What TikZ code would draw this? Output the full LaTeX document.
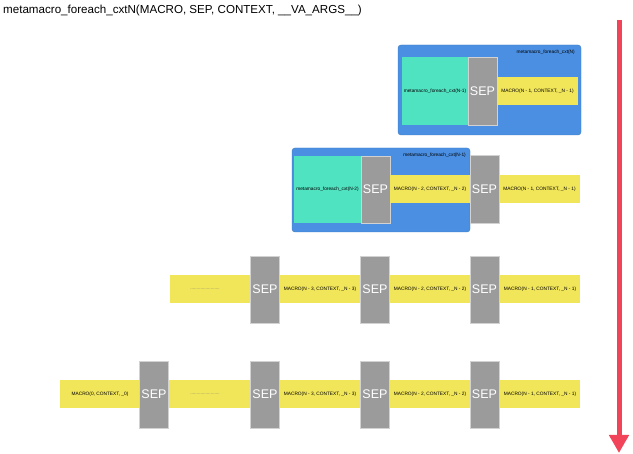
\documentclass[tikz,border=0pt]{standalone}
\usepackage{fontspec}
\setmainfont{Liberation Sans}
\usetikzlibrary{arrows.meta}
\definecolor{cblue}{HTML}{4A8FE2}
\definecolor{cteal}{HTML}{50E3C2}
\definecolor{cgray}{HTML}{9B9B9B}
\definecolor{cyel}{HTML}{F1E55A}
\definecolor{cred}{HTML}{F1435A}
\tikzset{
  box/.style={inner sep=0pt, outer sep=0pt, anchor=center},
  bluebox/.style={box, fill=cblue, draw=cblue!85!black, line width=0.4pt, rounded corners=3pt},
  tealbox/.style={box, fill=cteal},
  sepbox/.style={box, fill=cgray, draw=white!55!cgray, line width=0.4pt, minimum width=29pt, minimum height=67pt,
     text=white, font=\fontsize{12.5}{14}\selectfont},
  yelbar/.style={box, fill=cyel, minimum height=28pt},
  small/.style={inner sep=0pt, font=\fontsize{4.8}{5.5}\selectfont},
  dotsl/.style={inner sep=0pt, font=\fontsize{4.6}{5.5}\selectfont, text=black!55},
}
\begin{document}
\begin{tikzpicture}[x=1pt,y=-1pt]
\useasboundingbox (0,0) rectangle (633,454);
% title
\node[anchor=west, inner sep=0pt, font=\fontsize{11.6}{14}\selectfont] (title) at (3,11)
  {metamacro\_foreach\_cxtN(MACRO, SEP, CONTEXT, \_\_VA\_ARGS\_\_)};

% level N
\node[bluebox, minimum width=183pt, minimum height=90pt] (b1) at (489.5,90) {};
\node[small, anchor=east] (l1) at (575,52) {metamacro\_foreach\_cxt(N)};
\node[tealbox, minimum width=66pt, minimum height=68pt] (t1) at (435,91) {};
\node[small] (t1t) at (t1) {metamacro\_foreach\_cxt(N-1)};
\node[sepbox, minimum height=68pt] (s1) at (482.5,91) {SEP};
\node[yelbar, minimum width=81pt] (y1) at (537.5,91) {};
\node[small] (y1t) at (y1) {MACRO(N - 1, CONTEXT, \_N - 1)};

% level N-1
\node[bluebox, minimum width=178pt, minimum height=84pt] (b2) at (381,190) {};
\node[small, anchor=east] (l2) at (466,155) {metamacro\_foreach\_cxt(N-1)};
\node[tealbox, minimum width=67pt, minimum height=67pt] (t2) at (327.5,189.5) {};
\node[small] (t2t) at (t2) {metamacro\_foreach\_cxt(N-2)};
\node[sepbox] (s2a) at (375.5,189.5) {SEP};
\node[yelbar, minimum width=80pt] (y2a) at (430,189) {};
\node[small] (y2at) at (y2a) {MACRO(N - 2, CONTEXT, \_N - 2)};
\node[yelbar, minimum width=81pt] (y2b) at (539.5,189) {};
\node[small] (y2bt) at (y2b) {MACRO(N - 1, CONTEXT, \_N - 1)};
\node[sepbox, minimum height=68pt] (s2b) at (484.5,189) {SEP};

% level N-2
\node[yelbar, minimum width=410pt] (y3) at (375,289) {};
\node[dotsl] (d3) at (205,289) {.......................};
\node[small] (m3a) at (320,289) {MACRO(N - 3, CONTEXT, \_N - 3)};
\node[small] (m3b) at (430,289) {MACRO(N - 2, CONTEXT, \_N - 2)};
\node[small] (m3c) at (540,289) {MACRO(N - 1, CONTEXT, \_N - 1)};
\node[sepbox] (s3a) at (265,289.5) {SEP};
\node[sepbox] (s3b) at (375,289.5) {SEP};
\node[sepbox] (s3c) at (484.5,289.5) {SEP};

% level 0
\node[yelbar, minimum width=520pt] (y4) at (320,394) {};
\node[small] (m4z) at (100,394) {MACRO(0, CONTEXT, \_0)};
\node[dotsl] (d4) at (205,394) {.......................};
\node[small] (m4a) at (320,394) {MACRO(N - 3, CONTEXT, \_N - 3)};
\node[small] (m4b) at (430,394) {MACRO(N - 2, CONTEXT, \_N - 2)};
\node[small] (m4c) at (540,394) {MACRO(N - 1, CONTEXT, \_N - 1)};
\node[sepbox] (s4z) at (154,394.5) {SEP};
\node[sepbox] (s4a) at (265,394.5) {SEP};
\node[sepbox] (s4b) at (375,394.5) {SEP};
\node[sepbox] (s4c) at (484.5,394.5) {SEP};

% arrow
\coordinate (atop) at (619,20);
\coordinate (abot) at (619,453);
\draw[cred, line width=5pt, -{Triangle[width=19pt,length=18pt]}] (atop) -- (abot);
\end{tikzpicture}
\end{document}
